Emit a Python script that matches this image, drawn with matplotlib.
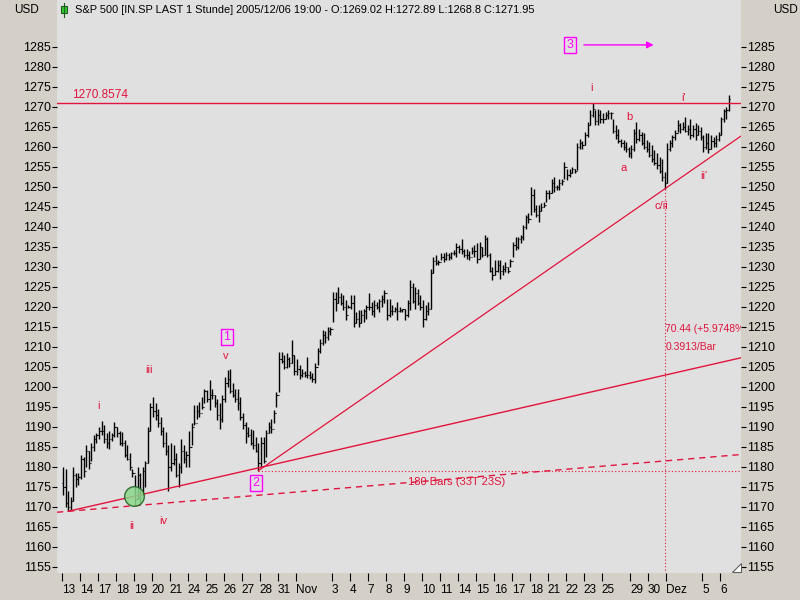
import numpy as np
import matplotlib
matplotlib.use("Agg")
import matplotlib.pyplot as plt
from matplotlib.lines import Line2D
from matplotlib.patches import Polygon, Rectangle

plt.rcParams['font.family'] = ['Liberation Sans', 'DejaVu Sans']

TAN = '#D4D0C8'
BG = '#E0E0E0'
RED = '#E0143C'
MAG = '#FF00FF'

title = "S&P 500 [IN.SP LAST 1 Stunde] 2005/12/06 19:00 - O:1269.02 H:1272.89 L:1268.8 C:1271.95"

# one entry per trading day, '' = no tick drawn
day_labels = ['13', '14', '17', '18', '19', '20', '21', '24', '25', '26', '27', '28', '31',
              'Nov', '', '3', '4', '7', '8', '9', '10', '11', '14', '15', '16', '17', '18',
              '21', '22', '23', '25', '', '29', '30',
              'Dez', '', '5', '6']

# hourly bars, one inner list per day
high = [
    [1180, 1179.5, 1174, 1172.5, 1180, 1178.5, 1178.5],
    [1183, 1182.5, 1185.5, 1184, 1186, 1188, 1188.5],
    [1190, 1191.5, 1190.5, 1188.3, 1188.8, 1188.3, 1191.2],
    [1190, 1189, 1188.7, 1186.7, 1185.4, 1183.3, 1179.5],
    [1178, 1180, 1178.5, 1180, 1181.5, 1190, 1196],
    [1197.5, 1196, 1194.5, 1192.5, 1190, 1188.7, 1185.5],
    [1186, 1185.5, 1183.3, 1181, 1187, 1185.5, 1184],
    [1189, 1190.8, 1195.4, 1195.4, 1196.2, 1197.5, 1199.5],
    [1199.1, 1201.6, 1199.5, 1197.9, 1197, 1195.8, 1197.9],
    [1202.5, 1204.1, 1204.5, 1200.8, 1199.5, 1199.5, 1197.4],
    [1193.3, 1191.2, 1190, 1189.5, 1189.1, 1187.5, 1185.8],
    [1187.5, 1187.5, 1189.1, 1191.2, 1192, 1194.1, 1198.7],
    [1208.7, 1208.7, 1208, 1208.3, 1207.5, 1211.7, 1208],
    [1207, 1205.5, 1204.5, 1204, 1207.5, 1204, 1203.5],
    [1206, 1209.6, 1212, 1214.2, 1214, 1215, 1215],
    [1223.7, 1223.7, 1225, 1223.3, 1222.9, 1221.6, 1220.4],
    [1222.9, 1222.9, 1218.7, 1219.1, 1219.1, 1219.5, 1220.4],
    [1223.3, 1221.2, 1221.6, 1221.2, 1222, 1222.9, 1224.1],
    [1222, 1222, 1220.4, 1220, 1221.2, 1220, 1219.5],
    [1219.5, 1221.6, 1226.6, 1225.8, 1225, 1224.5, 1222.9],
    [1221.6, 1220.4, 1221.2, 1229.5, 1232.5, 1232.9, 1231.6],
    [1233.3, 1233.3, 1233.7, 1233.3, 1233.7, 1234.1, 1235.8],
    [1235.5, 1236.9, 1234.5, 1234.5, 1234, 1234.9, 1235.4],
    [1235.8, 1236.2, 1235, 1237.9, 1237.5, 1233.3, 1230],
    [1231.6, 1231.6, 1231.6, 1230.4, 1231.2, 1229.9, 1232],
    [1236.2, 1237.5, 1237.5, 1237.9, 1240.4, 1242.9, 1243.3],
    [1250, 1249.5, 1245.4, 1245.4, 1245.8, 1246.2, 1249.1],
    [1249.1, 1252, 1252.4, 1250.4, 1252, 1252, 1256.2],
    [1254.5, 1254.5, 1255, 1254.5, 1260.8, 1262, 1261.5],
    [1263.7, 1266.2, 1269.1, 1270.8, 1269.1, 1269.5, 1269.1],
    [1268.3, 1268.7, 1269.1, 1268.7],
    [1267, 1265.4, 1264.5, 1262, 1261.6, 1261.2, 1260],
    [1260.5, 1264.5, 1266.2, 1264.5, 1263.7, 1263.3, 1261.6],
    [1261.2, 1260.4, 1259.1, 1258.3, 1257.5, 1257, 1253.7],
    [1260.8, 1261.6, 1262.9, 1264.1, 1266.6, 1265.8, 1266.2],
    [1267.5, 1265.4, 1267, 1265.4, 1265.8, 1265.4, 1265],
    [1262.9, 1263.3, 1263.3, 1262.9, 1262.5, 1262.9, 1263.7],
    [1267.5, 1269.5, 1270, 1272.89],
]
low = [
    [1173, 1170, 1168.8, 1169.2, 1171.5, 1175, 1175.5],
    [1177, 1177.5, 1180, 1179.5, 1181.5, 1184, 1186],
    [1187, 1188, 1185.8, 1184.7, 1184.5, 1186.5, 1187.5],
    [1187.5, 1185.5, 1185.2, 1182.5, 1181.7, 1179.2, 1177.5],
    [1170.5, 1172, 1171, 1173, 1175, 1181, 1189],
    [1192.5, 1191.7, 1190, 1188, 1185, 1183, 1174],
    [1179, 1180.5, 1177.5, 1175, 1178.3, 1181, 1180],
    [1180, 1185.4, 1190.4, 1192, 1192.5, 1194.5, 1195.8],
    [1196.2, 1194.1, 1197, 1195, 1191.6, 1189.5, 1191.2],
    [1196.2, 1200, 1198.3, 1197.4, 1196.2, 1194.1, 1191.6],
    [1189.5, 1185.8, 1187.5, 1185.4, 1184.5, 1183.7, 1178.95],
    [1179.8, 1180.8, 1182.5, 1188.3, 1188.3, 1190.8, 1195],
    [1198.7, 1205.8, 1204.5, 1204.6, 1205, 1205.8, 1203],
    [1203, 1202, 1202.5, 1202.5, 1202.2, 1201.8, 1201.2],
    [1201, 1205.5, 1208.5, 1210.5, 1211, 1211.7, 1213],
    [1216.2, 1219, 1220.8, 1220.4, 1219.1, 1216.6, 1219.6],
    [1219.5, 1215, 1215.8, 1215, 1215.8, 1216.2, 1217],
    [1219.1, 1217.9, 1217.5, 1219.5, 1218.7, 1220, 1220.8],
    [1216.6, 1217.5, 1217.9, 1218.7, 1216.6, 1218.7, 1218.7],
    [1216.6, 1217.5, 1219.1, 1220.8, 1219.5, 1220.4, 1219.1],
    [1215, 1216.6, 1217.9, 1219.5, 1228.3, 1230.4, 1230.5],
    [1231.6, 1231.2, 1231.6, 1231.6, 1232, 1232.9, 1232.5],
    [1233.5, 1233.2, 1232.4, 1232, 1231.6, 1233.2, 1232.5],
    [1230.8, 1232, 1232.5, 1232.9, 1232.5, 1228.7, 1226.6],
    [1227.8, 1228.7, 1226.8, 1227.9, 1228.7, 1228.3, 1229.9],
    [1232.5, 1234.1, 1234.5, 1235.8, 1236.6, 1239.5, 1241],
    [1243, 1243.7, 1242.5, 1241.2, 1244, 1245, 1246.2],
    [1247, 1248.3, 1248.7, 1249.1, 1249.1, 1250.4, 1252],
    [1251.6, 1252.4, 1253.3, 1253.3, 1254.1, 1259.5, 1259.5],
    [1260.5, 1262.5, 1265.4, 1267.5, 1265.4, 1265.4, 1265.8],
    [1265.8, 1267, 1267, 1267],
    [1263.3, 1262, 1260.8, 1260, 1259.1, 1258.7, 1257.5],
    [1257.2, 1259, 1260.8, 1261.5, 1260.4, 1259.5, 1258.7],
    [1257.5, 1256.2, 1255.4, 1254.5, 1253.3, 1251.5, 1249.39],
    [1251, 1259, 1260, 1261.6, 1263.7, 1263.3, 1264.1],
    [1263.7, 1262.9, 1262, 1262.5, 1261.6, 1262.9, 1261.6],
    [1258.7, 1259.5, 1258.3, 1259.5, 1260, 1260, 1261.5],
    [1263, 1266.2, 1267, 1268.8],
]
close = [
    [1175, 1171, 1170, 1171.5, 1178, 1177, 1177.5],
    [1182, 1179, 1184, 1181, 1185, 1187, 1188],
    [1189, 1189, 1187, 1186, 1187, 1188, 1190],
    [1188.5, 1186, 1186, 1183, 1182, 1180, 1178.5],
    [1172, 1178, 1173, 1179, 1181, 1189, 1195],
    [1194, 1193, 1191, 1189, 1186, 1184, 1180],
    [1181, 1182, 1178, 1180, 1184, 1182, 1183],
    [1185, 1190, 1191, 1194, 1193.5, 1195, 1199],
    [1197, 1198, 1198, 1196, 1193, 1192, 1197],
    [1201, 1202, 1199, 1198, 1197, 1196, 1192.5],
    [1190.5, 1188.5, 1188, 1186, 1185.5, 1184, 1181],
    [1186, 1181.5, 1188.5, 1190, 1189.5, 1193.5, 1198],
    [1207, 1206.5, 1205, 1207, 1206, 1208, 1204],
    [1204.5, 1203, 1203.5, 1203, 1203, 1202.5, 1202],
    [1205, 1209, 1211, 1213, 1212.5, 1214, 1214.5],
    [1222, 1221, 1222.5, 1221, 1220, 1218, 1220],
    [1221, 1216, 1217, 1216, 1218, 1219, 1220],
    [1220, 1219, 1220.5, 1220, 1221.5, 1222, 1223.5],
    [1218, 1219, 1219, 1219.5, 1219, 1219.2, 1219.3],
    [1218, 1221, 1225, 1221.5, 1223.5, 1221, 1220],
    [1217, 1219, 1219.5, 1228.5, 1231.5, 1231, 1231.2],
    [1232.5, 1232, 1233, 1232.5, 1233.5, 1233.5, 1235],
    [1234.5, 1234, 1233, 1233, 1232.5, 1234, 1234],
    [1232, 1235, 1233, 1237, 1233, 1229, 1228],
    [1229, 1230.5, 1229, 1229.5, 1230, 1229, 1231.5],
    [1235.5, 1235, 1237, 1237.5, 1240, 1242.5, 1242],
    [1248, 1244.5, 1243, 1244, 1245, 1245.5, 1248.5],
    [1248.5, 1251, 1250, 1250, 1251, 1251.5, 1255],
    [1253, 1253.5, 1254.5, 1254, 1260, 1261, 1260.5],
    [1263, 1265.5, 1268, 1269.5, 1266.5, 1268, 1267],
    [1267, 1268, 1268.5, 1268.3],
    [1264, 1263, 1261.5, 1261, 1260, 1259.5, 1258.5],
    [1259.5, 1263.5, 1262, 1263, 1261, 1260, 1259.5],
    [1258, 1257, 1256, 1255.5, 1254, 1252.5, 1251],
    [1259.5, 1261, 1262.5, 1263.5, 1265.5, 1264.5, 1265],
    [1264, 1264.5, 1263, 1264.5, 1263, 1264, 1262.5],
    [1260, 1261, 1259.5, 1261.5, 1261, 1262, 1263],
    [1267, 1269, 1269.02, 1271.95],
]
first_open = 1176.0
resistance = 1270.8574
fan_end = 1183.0          # dashed fan line value at the right edge
nbars = 180               # bar count shown by the measuring tool

n_day = [len(d) for d in high]
starts = np.concatenate([[0], np.cumsum(n_day)[:-1]])
H = np.concatenate([np.array(d, float) for d in high])
L = np.concatenate([np.array(d, float) for d in low])
C = np.concatenate([np.array(d, float) for d in close])
O = np.concatenate([[first_open], C[:-1]])
x = np.arange(len(H))

def day_slice(i, j):
    return slice(starts[i], starts[j] + n_day[j])

# pivot lows for the trendlines
def pivot(i, j):
    s = day_slice(i, j)
    k = s.start + int(np.argmin(L[s]))
    return k, L[k]

p0 = pivot(0, 0)      # Oct 13
p1 = pivot(11, 11)    # Oct 28
p2 = pivot(10, 11)    # Oct 27/28
p3 = pivot(33, 33)    # Nov 30

px_bar = 18 / 7.0
x0, x1 = -0.5 - 4.7 / px_bar, -0.5 + 679.3 / px_bar
y0, y1 = 1153.375, 1296.625

fig = plt.figure(figsize=(8, 6), dpi=100, facecolor=TAN)
ax = fig.add_axes([57 / 800, 27 / 600, 684 / 800, 573 / 600])
ax.set_facecolor(BG)
ax.set_xlim(x0, x1)
ax.set_ylim(y0, y1)
for sp in ax.spines.values():
    sp.set_visible(False)

# bars
ax.vlines(x, L, H, color='black', lw=1.0, zorder=2)
ax.hlines(O, x - 0.45, x, color='black', lw=0.8, zorder=2)
ax.hlines(C, x, x + 0.45, color='black', lw=0.8, zorder=2)

# horizontal resistance
ax.axhline(resistance, color=RED, lw=1.0, zorder=3)
ax.text(3.5, resistance + 0.4, '%.4f' % resistance, color=RED, fontsize=8.5, va='bottom')

# trendlines
def line_through(a, b, xs):
    m = (b[1] - a[1]) / (b[0] - a[0])
    return a[1] + m * (xs - a[0])

xa = np.array([p0[0], x1])
ax.plot(xa, line_through(p0, p1, xa), color=RED, lw=1.0, zorder=3)
xc = np.array([p2[0], x1])
ax.plot(xc, line_through(p2, p3, xc), color=RED, lw=0.9, zorder=3)
xd = np.array([x0, x1])
ax.plot(xd, line_through(p0, (x1, fan_end), xd), color=RED, lw=1.0,
        ls=(0, (4.5, 3.5)), zorder=3)

# measurement
ax.plot([p2[0], x1], [p2[1], p2[1]], color=RED, lw=0.8, ls=(0, (1, 2)), zorder=3)
ax.plot([p3[0], p3[0]], [p3[1], y0], color=RED, lw=0.8, ls=(0, (1, 2)), zorder=3)
rise = p3[1] - p2[1]
ax.text(234.2, 1214.3, '%.2f (+%.4f%%' % (rise, 100 * rise / p2[1]), color=RED,
        fontsize=7.5, va='center', clip_on=True)
ax.text(234.2, 1210.0, '%.4f/Bar' % (rise / nbars), color=RED, fontsize=7.5, va='center')
ax.text(152.9, 1176.2, '%d Bars (33T 23S)' % nbars, color=RED, fontsize=8,
        ha='center', va='center', zorder=4)

# green circle at wave ii
ax.scatter([starts[4] - 0.5], [line_through(p0, p1, starts[4] - 0.5)], s=200,
           facecolor='#8CD88C', edgecolor='#1E5E1E', lw=1.0, alpha=0.85, zorder=4)

# wave labels
waves = [('i', 14, 1195.1), ('ii', 26.8, 1165.1), ('iii', 33.4, 1204.1), ('iv', 38.9, 1166.4),
         ('v', 63.4, 1207.6), ('i', 205.4, 1274.6), ('a', 218.2, 1254.6), ('b', 220.1, 1267.4),
         ('c/ii', 232.6, 1245.1), ("i'", 241.5, 1272.1), ("ii'", 249.3, 1252.6)]
for t, xi, yi in waves:
    ax.text(xi, yi, t, color=RED, fontsize=8, ha='center', va='center')

boxes = [('1', 63.8, 1212.4), ('2', 75.1, 1175.9), ('3', 197.2, 1285.4)]
for t, xi, yi in boxes:
    ax.text(xi, yi, t, color=MAG, fontsize=9, ha='center', va='center',
            bbox=dict(boxstyle='square,pad=0.18', fc='none', ec=MAG, lw=1.0))
ax.annotate('', xy=(230.8, 1285.4), xytext=(201.5, 1285.4),
            arrowprops=dict(arrowstyle='-|>', color=MAG, lw=1.0, mutation_scale=10))

# axes ticks
yt = np.arange(1155, 1286, 5)
ax.set_yticks(yt)
ax.set_yticklabels([str(v) for v in yt])
ax.tick_params(axis='y', which='both', left=True, right=True, labelleft=True,
               labelright=True, direction='out', length=3.5, width=0.8, pad=1,
               labelsize=9, colors='black')
shown = [i for i, t in enumerate(day_labels) if t]
ax.set_xticks(starts[shown] - 0.5)
ax.set_xticklabels([day_labels[i] for i in shown])
ax.tick_params(axis='x', direction='out', length=5.5, width=0.8, pad=2.5, labelsize=8.5)
for lab in ax.get_xticklabels():
    lab.set_horizontalalignment('left')

# header
fig.text(75 / 800, 1 - 10 / 600, title, fontsize=7.9, va='center', ha='left')
fig.add_artist(Line2D([64 / 800, 64 / 800], [1 - 3 / 600, 1 - 17 / 600], color='#1E5E1E', lw=0.8))
fig.add_artist(Rectangle((61 / 800, 1 - 13 / 600), 6 / 800, 7 / 600, fc='#33CC33',
                         ec='#1E5E1E', lw=0.8))
fig.text(14 / 800, 1 - 10 / 600, 'USD', fontsize=8.5, va='center', ha='left')
fig.text(773 / 800, 1 - 10 / 600, 'USD', fontsize=8.5, va='center', ha='left')
fig.add_artist(Polygon([[732 / 800, 1 - 572 / 600], [741 / 800, 1 - 572 / 600],
                        [741 / 800, 1 - 563 / 600]], closed=True, fc='white', ec='#606060', lw=0.8))

fig.savefig('out.png', dpi=100, facecolor=TAN)
